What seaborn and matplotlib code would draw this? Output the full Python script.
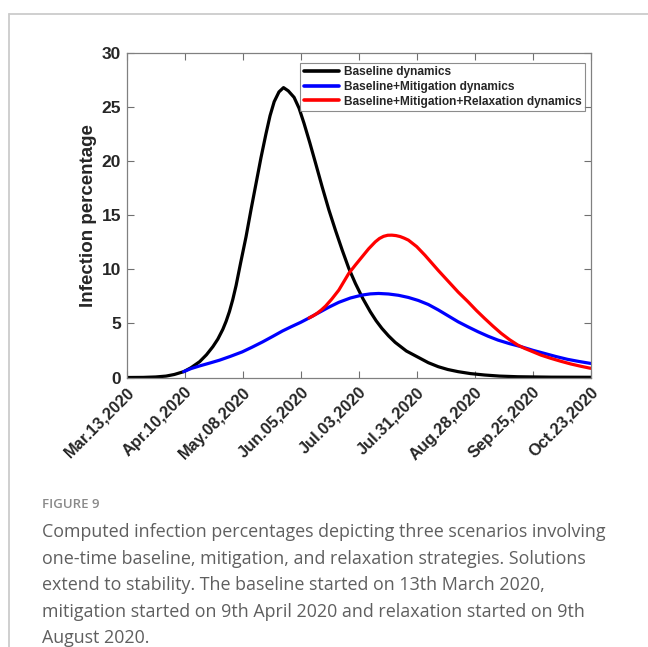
import matplotlib
matplotlib.use("Agg")
import matplotlib.pyplot as plt
import matplotlib.transforms as mtransforms
from matplotlib.lines import Line2D
import seaborn as sns
import pandas as pd

# ---------------- data (days since Mar 13, 2020) ----------------
base_days = [0, 8, 14, 19, 23, 27.5, 31, 35.2, 38.5, 41.6, 44, 46.4, 48, 49.6, 51.2, 52.8,
             55, 57.6, 60, 62.4, 64.8, 67.2, 69.2, 71.2, 73.5, 75.7, 78, 80.8, 83.2, 85.6,
             88.4, 91.2, 94.4, 97.6, 100.8, 104, 107.2, 110.4, 114, 117.6, 120.4, 123.2,
             126.4, 129.6, 135, 140.8, 145.6, 150.4, 155, 160, 166, 172.8, 180, 188.8,
             205, 224]
base_vals = [0.0, 0.01, 0.05, 0.13, 0.28, 0.54, 0.9, 1.46, 2.1, 2.85, 3.55, 4.45, 5.2, 6.1,
             7.2, 8.5, 10.6, 13.0, 15.5, 17.9, 20.3, 22.5, 24.2, 25.5, 26.4, 26.8, 26.5,
             25.9, 24.9, 23.5, 21.7, 19.8, 17.6, 15.5, 13.6, 11.8, 10.1, 8.7, 7.3, 6.08,
             5.25, 4.54, 3.85, 3.25, 2.45, 1.86, 1.37, 1.0, 0.74, 0.54, 0.36, 0.23, 0.13,
             0.07, 0.03, 0.02]

mit_days = [27.5, 31, 35.2, 40, 44.8, 50, 55.8, 60.5, 65.6, 70.5, 75.2, 79.5, 84, 88,
            92.8, 97.6, 102.4, 108, 113.6, 117.6, 121.6, 126.4, 131.2, 136, 140.8, 145.6,
            150.4, 155.2, 160, 164.8, 169.6, 174.4, 179.2, 184.8, 190.4, 196, 201.6, 207.2,
            212.8, 218.4, 224]
mit_vals = [0.54, 0.82, 1.07, 1.33, 1.6, 1.95, 2.37, 2.8, 3.29, 3.8, 4.3, 4.7, 5.1, 5.5,
            6.0, 6.5, 6.95, 7.35, 7.62, 7.73, 7.77, 7.72, 7.6, 7.4, 7.12, 6.75,
            6.25, 5.7, 5.15, 4.68, 4.23, 3.82, 3.46, 3.13, 2.85, 2.52, 2.23, 1.94,
            1.68, 1.48, 1.3]

rel_days = [88, 90, 92, 94, 96, 99, 102.4, 104.8, 107.2, 110.4, 113.6, 116.8, 120, 122,
            124, 126, 128, 130, 132, 134, 136, 140, 144, 147.2, 150.4, 155.2, 160, 164.8,
            168.8, 172.8, 176.8, 180.8, 184.8, 188.8, 192, 195.2, 200, 204.8, 209.6, 214.4,
            219.2, 224]
rel_vals = [5.5, 5.7, 5.95, 6.25, 6.6, 7.25, 8.08, 8.85, 9.62, 10.4, 11.15, 11.9, 12.54, 12.85,
            13.05, 13.15, 13.16, 13.12, 13.03, 12.88, 12.7, 12.1, 11.3, 10.6, 9.9, 8.9, 7.9, 7.0,
            6.2, 5.46, 4.75, 4.08, 3.5, 3.0, 2.7, 2.45, 2.07, 1.77, 1.5, 1.25,
            1.04, 0.85]

series_names = ["Baseline dynamics",
                "Baseline+Mitigation dynamics",
                "Baseline+Mitigation+Relaxation dynamics"]
series_colors = ["#000000", "#0000FF", "#FF0000"]

tick_days = [0, 28, 56, 84, 112, 140, 168, 196, 224]
tick_labels = ["Mar.13,2020", "Apr.10,2020", "May.08,2020", "Jun.05,2020",
               "Jul.03,2020", "Jul.31,2020", "Aug.28,2020", "Sep.25,2020",
               "Oct.23,2020"]
y_ticks = [0, 5, 10, 15, 20, 25, 30]

caption_title = "FIGURE 9"
caption_lines = [
    "Computed infection percentages depicting three scenarios involving",
    "one-time baseline, mitigation, and relaxation strategies. Solutions",
    "extend to stability. The baseline started on 13th March 2020,",
    "mitigation started on 9th April 2020 and relaxation started on 9th",
    "August 2020.",
]

# ---------------- styling ----------------
sns.set_theme(style="white")
plt.rcParams["font.family"] = ["Liberation Sans", "DejaVu Sans"]

W, H = 648, 647
fig = plt.figure(figsize=(W / 100, H / 100), dpi=100)
fig.patch.set_facecolor("white")

x0, x1, ytop, ybot = 126.7, 590.7, 53.0, 377.5
ax = fig.add_axes([x0 / W, 1 - ybot / H, (x1 - x0) / W, (ybot - ytop) / H])

frames = []
for name, d, v in zip(series_names, [base_days, mit_days, rel_days],
                      [base_vals, mit_vals, rel_vals]):
    frames.append(pd.DataFrame({"day": d, "value": v, "series": name}))

for df, c in zip(frames, series_colors):
    sns.lineplot(data=df, x="day", y="value", color=c, lw=2.3, ax=ax,
                 sort=False, estimator=None, legend=False)

ax.set_xlim(0, 224)
ax.set_ylim(0, 30)
ax.set_xticks(tick_days)
ax.set_xticklabels(tick_labels, rotation=45, ha="right", va="top",
                   rotation_mode="anchor", fontsize=11.8, fontweight="bold",
                   color="#262626")
shift = mtransforms.ScaledTranslation(8 / 100, 2 / 100, fig.dpi_scale_trans)
for lbl in ax.get_xticklabels():
    lbl.set_transform(lbl.get_transform() + shift)

ax.set_yticks(y_ticks)
ax.set_yticklabels([str(t) for t in y_ticks], fontsize=12.5, fontweight="bold",
                   color="#262626")
ax.set_xlabel("")
ax.set_ylabel("Infection percentage", fontsize=13.5, fontweight="bold",
              color="#262626", labelpad=3)

ax.tick_params(axis="both", which="both", direction="in", length=5, width=0.8,
               color="#707070", top=True, right=True, bottom=True, left=True,
               pad=4)
ax.tick_params(axis="x", pad=5)
for sp in ax.spines.values():
    sp.set_color("#808080")
    sp.set_linewidth(0.9)
    sp.set_visible(True)

handles = [Line2D([0], [0], color=c, lw=2.6) for c in series_colors]
leg = ax.legend(handles, series_names, loc="upper right",
                bbox_to_anchor=(0.9875, 0.97), frameon=True, fancybox=False,
                prop={"weight": "bold", "size": 8.6}, handlelength=3.0,
                handletextpad=0.35, borderpad=0.3, labelspacing=0.22,
                borderaxespad=0)
leg.get_frame().set_edgecolor("#707070")
leg.get_frame().set_linewidth(0.8)

# card border
fig.add_artist(Line2D([8.5 / W, 1.0], [1 - 14 / H, 1 - 14 / H],
                      transform=fig.transFigure, color="#cccccc", lw=1.3))
fig.add_artist(Line2D([8.5 / W, 8.5 / W], [1 - 14 / H, 0.0],
                      transform=fig.transFigure, color="#cccccc", lw=1.3))

# caption
fig.text(42 / W, 1 - 504 / H, caption_title, fontsize=9.5, color="#8a8a8a",
         family=["Open Sans", "DejaVu Sans"], fontweight="semibold", va="center")
for i, line in enumerate(caption_lines):
    fig.text(42 / W, 1 - (532 + 26.6 * i) / H, line, fontsize=12.85,
             color="#5f5f5f", family=["Open Sans", "DejaVu Sans"], va="center")

fig.savefig("out.png", dpi=100, facecolor="white")
